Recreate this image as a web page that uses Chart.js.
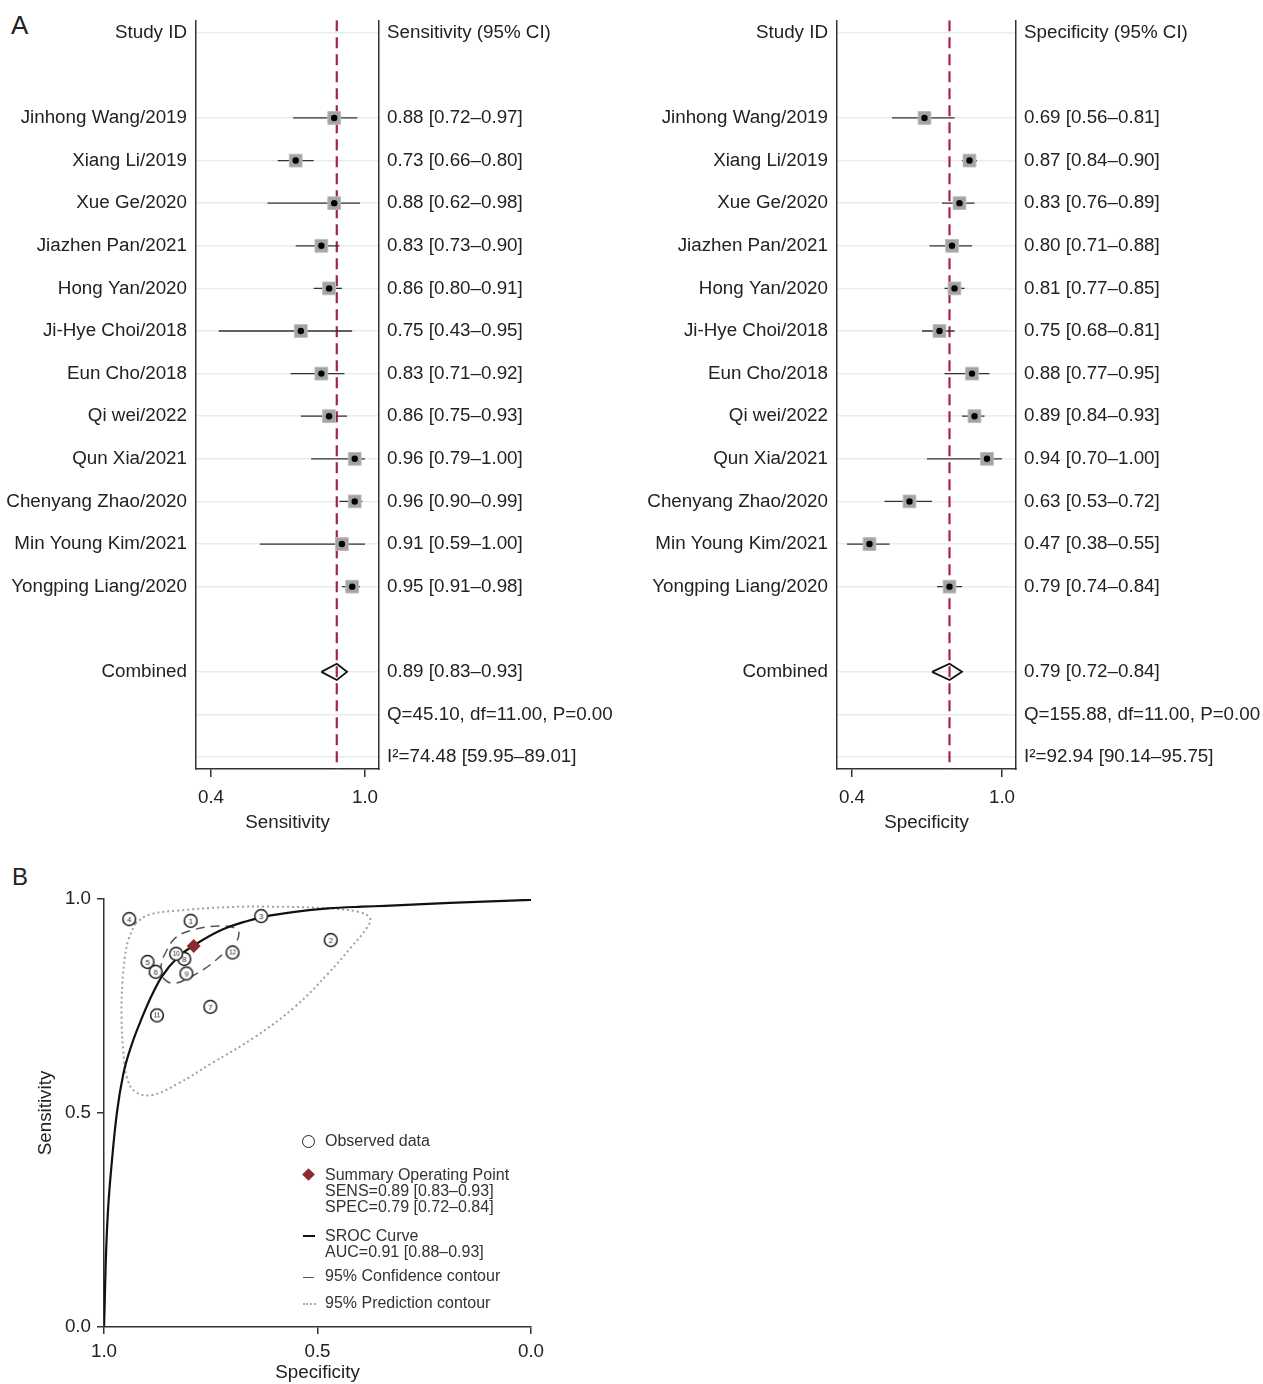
<!DOCTYPE html>
<html>
<head>
<meta charset="utf-8">
<title>Forest plots and SROC</title>
<script src="https://cdn.jsdelivr.net/npm/chart.js@4.4.1/dist/chart.umd.min.js"></script>
<style>
body { margin: 0; background: #fff; }
#page { position: relative; width: 1263px; height: 1384px; overflow: hidden;
        font-family: "Liberation Sans", Arial, Helvetica, sans-serif; color: #222; }
canvas { position: absolute; }
.panel { position: absolute; font-size: 26px; line-height: 26px; }
.lg { position: absolute; left: 325px; font-size: 16px; line-height: 16px; color: #333; white-space: nowrap; }
.sym { position: absolute; }
</style>
</head>
<body>
<div id="page">
  <div class="panel" style="left:11px;top:12px">A</div>
  <div class="panel" style="left:12px;top:864px;font-size:24px">B</div>

  <canvas id="sensChart" width="630" height="840" style="left:0;top:0"></canvas>
  <canvas id="specChart" width="633" height="840" style="left:630px;top:0"></canvas>
  <canvas id="srocChart" width="620" height="524" style="left:0;top:860px"></canvas>

  <!-- legend of panel B -->
  <div class="sym" style="left:302px;top:1135px;width:11px;height:11px;border:1.6px solid #222;border-radius:50%"></div>
  <div class="lg" style="top:1133px">Observed data</div>
  <div class="sym" style="left:304px;top:1170px;width:9px;height:9px;background:#8c2a2f;transform:rotate(45deg)"></div>
  <div class="lg" id="lgSummary" style="top:1167px"></div>
  <div class="sym" style="left:303px;top:1235px;width:12px;height:0;border-top:2px solid #111"></div>
  <div class="lg" id="lgSroc" style="top:1228px"></div>
  <div class="sym" style="left:303px;top:1277px;width:11px;height:0;border-top:1.5px solid #555"></div>
  <div class="lg" style="top:1268px">95% Confidence contour</div>
  <div class="sym" style="left:303px;top:1303px;width:13px;height:0;border-top:2px dotted #aaa"></div>
  <div class="lg" style="top:1295px">95% Prediction contour</div>
</div>

<script>
// ---- forest plot data ----
const studyIds = ['Jinhong Wang/2019', 'Xiang Li/2019', 'Xue Ge/2020', 'Jiazhen Pan/2021',
    'Hong Yan/2020', 'Ji-Hye Choi/2018', 'Eun Cho/2018', 'Qi wei/2022', 'Qun Xia/2021',
    'Chenyang Zhao/2020', 'Min Young Kim/2021', 'Yongping Liang/2020'];

const sensEst  = [0.88, 0.73, 0.88, 0.83, 0.86, 0.75, 0.83, 0.86, 0.96, 0.96, 0.91, 0.95];
const sensLow  = [0.72, 0.66, 0.62, 0.73, 0.80, 0.43, 0.71, 0.75, 0.79, 0.90, 0.59, 0.91];
const sensHigh = [0.97, 0.80, 0.98, 0.90, 0.91, 0.95, 0.92, 0.93, 1.00, 0.99, 1.00, 0.98];
const sensPooled = [0.89, 0.83, 0.93]; // estimate, low, high
const sensHet = ['Q=45.10, df=11.00, P=0.00', 'I\u00b2=74.48 [59.95\u201389.01]'];

const specEst  = [0.69, 0.87, 0.83, 0.80, 0.81, 0.75, 0.88, 0.89, 0.94, 0.63, 0.47, 0.79];
const specLow  = [0.56, 0.84, 0.76, 0.71, 0.77, 0.68, 0.77, 0.84, 0.70, 0.53, 0.38, 0.74];
const specHigh = [0.81, 0.90, 0.89, 0.88, 0.85, 0.81, 0.95, 0.93, 1.00, 0.72, 0.55, 0.84];
const specPooled = [0.79, 0.72, 0.84];
const specHet = ['Q=155.88, df=11.00, P=0.00', 'I\u00b2=92.94 [90.14\u201395.75]'];

const forestTicks = [0.4, 1.0];

// ---- SROC data (study number order) ----
const srocStudyNo = [1, 2, 3, 4, 5, 6, 7, 8, 9, 10, 11, 12];
const srocStudySpec = [0.797, 0.469, 0.632, 0.941, 0.898, 0.879, 0.751, 0.812, 0.807, 0.831, 0.876, 0.699];
const srocStudySens = [0.949, 0.904, 0.960, 0.953, 0.853, 0.830, 0.748, 0.860, 0.826, 0.872, 0.728, 0.875];
const aucText = 'AUC=0.91 [0.88\u20130.93]';

const curveSpec = [1.000, 0.999, 0.996, 0.991, 0.982, 0.970, 0.955, 0.935, 0.910, 0.888, 0.865, 0.826, 0.787, 0.724, 0.670, 0.623, 0.553, 0.475, 0.396, 0.342, 0.190, 0.000];
const curveSens = [0.000, 0.032, 0.149, 0.266, 0.382, 0.499, 0.590, 0.660, 0.725, 0.775, 0.818, 0.865, 0.893, 0.928, 0.947, 0.959, 0.970, 0.978, 0.982, 0.984, 0.991, 0.998];

const confSpec = [0.861, 0.834, 0.787, 0.724, 0.693, 0.684, 0.693, 0.724, 0.763, 0.803, 0.834, 0.857, 0.867, 0.861];
const confSens = [0.865, 0.908, 0.929, 0.937, 0.932, 0.920, 0.896, 0.869, 0.838, 0.815, 0.803, 0.811, 0.834, 0.865];

const predSpec = [0.927, 0.896, 0.826, 0.709, 0.592, 0.475, 0.404, 0.377, 0.385, 0.420, 0.475, 0.553, 0.646, 0.748, 0.826, 0.888, 0.927, 0.947, 0.955, 0.959, 0.957, 0.951, 0.943, 0.927];
const predSens = [0.943, 0.963, 0.973, 0.981, 0.982, 0.978, 0.970, 0.955, 0.932, 0.889, 0.826, 0.748, 0.678, 0.616, 0.569, 0.542, 0.550, 0.585, 0.647, 0.725, 0.803, 0.865, 0.904, 0.943];

Chart.defaults.font.family = '"Liberation Sans", Arial, Helvetica, sans-serif';
Chart.defaults.color = '#222';

const FONT = { size: 18.8 };
const rowMin = -0.2925, rowMax = 17.28;
const headerRow = 0, firstStudyRow = 2, combinedRow = 15;

function ciText(e, l, h) {
    return e.toFixed(2) + ' [' + l.toFixed(2) + '\u2013' + h.toFixed(2) + ']';
}

function makeForest(id, est, low, high, pooled, het, header, xTitle, xMin, xMax, leftW, rightW) {
    const leftLabels = {}, rightLabels = {};
    leftLabels[headerRow] = 'Study ID';
    rightLabels[headerRow] = header;
    studyIds.forEach((s, i) => {
        leftLabels[firstStudyRow + i] = s;
        rightLabels[firstStudyRow + i] = ciText(est[i], low[i], high[i]);
    });
    leftLabels[combinedRow] = 'Combined';
    rightLabels[combinedRow] = ciText(pooled[0], pooled[1], pooled[2]);
    rightLabels[combinedRow + 1] = het[0];
    rightLabels[combinedRow + 2] = het[1];
    const rows = Object.keys(rightLabels).map(Number);

    const ciData = [];
    est.forEach((e, i) => {
        const r = firstStudyRow + i;
        ciData.push({ x: low[i], y: r }, { x: high[i], y: r }, { x: NaN, y: NaN });
    });
    const pts = est.map((e, i) => ({ x: e, y: firstStudyRow + i }));
    const dh = 0.19;
    const diamond = [
        { x: pooled[1], y: combinedRow }, { x: pooled[0], y: combinedRow - dh },
        { x: pooled[2], y: combinedRow }, { x: pooled[0], y: combinedRow + dh },
        { x: pooled[1], y: combinedRow }
    ];
    const rowTicks = s => { s.ticks = rows.map(v => ({ value: v })); };

    new Chart(document.getElementById(id), {
        type: 'scatter',
        data: {
            datasets: [
                { data: [{ x: pooled[0], y: rowMin }, { x: pooled[0], y: rowMax }], showLine: true,
                  borderColor: '#a8204b', borderWidth: 2.2, borderDash: [11, 6], pointRadius: 0, order: 5 },
                { data: ciData, showLine: true, spanGaps: false, borderColor: '#333',
                  borderWidth: 1.3, pointRadius: 0, order: 4 },
                { data: pts, pointStyle: 'rect', pointRadius: 9, backgroundColor: '#a3a3a3',
                  borderColor: '#bcbcbc', borderWidth: 1, order: 3 },
                { data: pts, pointStyle: 'circle', pointRadius: 3.2, backgroundColor: '#000',
                  borderWidth: 0, order: 2 },
                { data: diamond, showLine: true, borderColor: '#111', borderWidth: 1.8,
                  pointRadius: 0, order: 1 }
            ]
        },
        options: {
            responsive: false,
            animation: false,
            events: [],
            layout: { padding: { top: 18, left: 0, right: 0, bottom: 0 } },
            plugins: { legend: { display: false }, tooltip: { enabled: false } },
            scales: {
                x: {
                    type: 'linear', min: xMin, max: xMax,
                    afterBuildTicks: s => { s.ticks = forestTicks.map(v => ({ value: v })); },
                    afterFit: s => { s.height = 71; },
                    grid: { drawOnChartArea: false, drawTicks: true, tickLength: 8, color: '#333', lineWidth: 1.5 },
                    border: { color: '#333', width: 1.5 },
                    ticks: { font: FONT, color: '#222', padding: 10, maxRotation: 0, callback: v => v.toFixed(1) },
                    title: { display: true, text: xTitle, font: FONT, color: '#222', padding: { top: 0, bottom: 6 } }
                },
                y: {
                    type: 'linear', position: 'left', reverse: true, min: rowMin, max: rowMax,
                    afterBuildTicks: rowTicks,
                    afterFit: s => { s.width = leftW; },
                    grid: { color: '#e6edf1', lineWidth: 1.5, drawTicks: false },
                    border: { color: '#333', width: 1.5 },
                    ticks: { font: FONT, color: '#222', padding: 9, autoSkip: false,
                             callback: v => leftLabels[v] || '' }
                },
                yR: {
                    type: 'linear', position: 'right', reverse: true, min: rowMin, max: rowMax,
                    afterBuildTicks: rowTicks,
                    afterFit: s => { s.width = rightW; },
                    grid: { display: false, drawTicks: false },
                    border: { display: true, color: '#333', width: 1.5 },
                    ticks: { font: FONT, color: '#222', padding: 8, autoSkip: false,
                             callback: v => rightLabels[v] || '' }
                }
            }
        }
    });
}

makeForest('sensChart', sensEst, sensLow, sensHigh, sensPooled, sensHet,
    'Sensitivity (95% CI)', 'Sensitivity', 0.3416, 1.0545, 196, 251);
makeForest('specChart', specEst, specLow, specHigh, specPooled, specHet,
    'Specificity (95% CI)', 'Specificity', 0.34, 1.056, 207, 247);

// ---- SROC panel ----
function circleIcon(n) {
    const c = document.createElement('canvas');
    c.width = 18; c.height = 18;
    const g = c.getContext('2d');
    g.beginPath();
    g.arc(9, 9, 6.4, 0, Math.PI * 2);
    g.fillStyle = '#fff';
    g.fill();
    g.lineWidth = 1.5;
    g.strokeStyle = '#1a1a1a';
    g.stroke();
    g.fillStyle = '#222';
    g.font = (n >= 10 ? '6.5px' : '7.5px') + ' "Liberation Sans", Arial';
    g.textAlign = 'center';
    g.textBaseline = 'middle';
    g.fillText(String(n), 9, 9.5);
    return c;
}
const icons = srocStudyNo.map(circleIcon);

const toXY = (sp, se) => sp.map((v, i) => ({ x: v, y: se[i] }));

document.getElementById('lgSummary').innerHTML =
    'Summary Operating Point<br>SENS=' + ciText(sensPooled[0], sensPooled[1], sensPooled[2]) +
    '<br>SPEC=' + ciText(specPooled[0], specPooled[1], specPooled[2]);
document.getElementById('lgSroc').innerHTML = 'SROC Curve<br>' + aucText;

new Chart(document.getElementById('srocChart'), {
    type: 'scatter',
    data: {
        datasets: [
            { data: toXY(predSpec, predSens), showLine: true, borderColor: '#a0a0a0', borderWidth: 2,
              borderDash: [2, 3], tension: 0.4, pointRadius: 0, order: 5 },
            { data: toXY(confSpec, confSens), showLine: true, borderColor: '#555', borderWidth: 1.5,
              borderDash: [9, 6], tension: 0.4, pointRadius: 0, order: 4 },
            { data: toXY(curveSpec, curveSens), showLine: true, borderColor: '#111', borderWidth: 2.2,
              cubicInterpolationMode: 'monotone', pointRadius: 0, order: 3 },
            { data: toXY(srocStudySpec, srocStudySens), pointRadius: 7,
              pointStyle: ctx => icons[ctx.dataIndex], order: 2 },
            { data: [{ x: specPooled[0], y: sensPooled[0] }], pointStyle: 'rectRot', pointRadius: 7,
              backgroundColor: '#8c2a2f', borderWidth: 0, order: 1 }
        ]
    },
    options: {
        responsive: false,
        animation: false,
        events: [],
        layout: { padding: { top: 39, right: 89, left: 0, bottom: 0 } },
        plugins: { legend: { display: false }, tooltip: { enabled: false } },
        scales: {
            x: {
                type: 'linear', reverse: true, min: 0, max: 1,
                afterFit: s => { s.height = 57; },
                grid: { drawOnChartArea: false, tickLength: 7, color: '#333', lineWidth: 1.5 },
                border: { color: '#333', width: 1.5 },
                ticks: { stepSize: 0.5, font: FONT, color: '#222', padding: 7, callback: v => v.toFixed(1) },
                title: { display: true, text: 'Specificity', font: FONT, color: '#222', padding: { top: 0, bottom: 0 } }
            },
            y: {
                type: 'linear', min: 0, max: 1,
                afterFit: s => { s.width = 104; },
                grid: { drawOnChartArea: false, tickLength: 7, color: '#333', lineWidth: 1.5 },
                border: { color: '#333', width: 1.5 },
                ticks: { stepSize: 0.5, font: FONT, color: '#222', padding: 6, callback: v => v.toFixed(1) },
                title: { display: true, text: 'Sensitivity', font: FONT, color: '#222', padding: { top: 35, bottom: 0 } }
            }
        }
    }
});
</script>
</body>
</html>
